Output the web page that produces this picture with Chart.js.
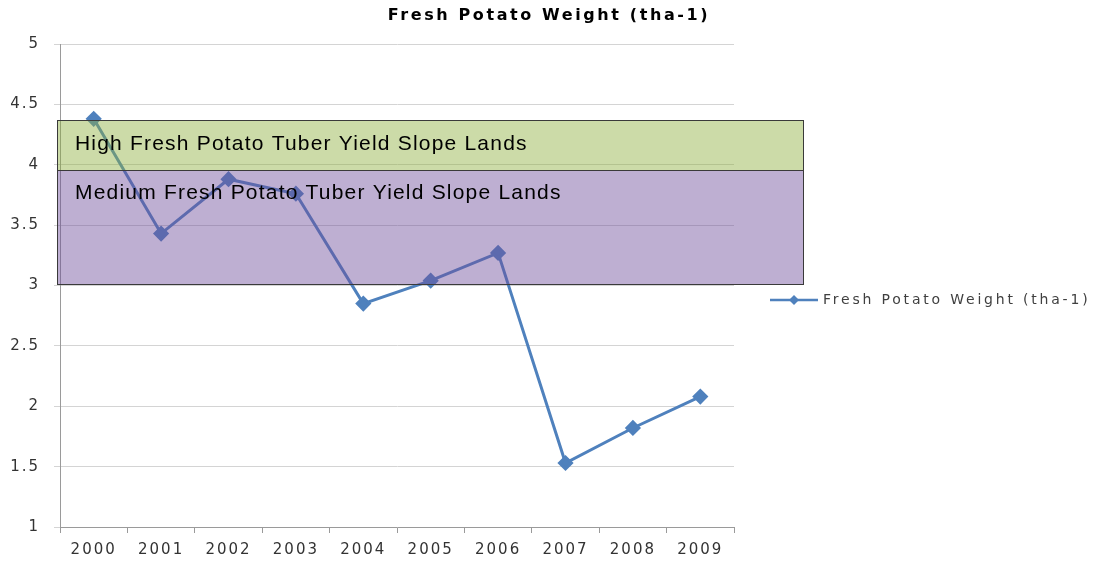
<!DOCTYPE html>
<html>
<head>
<meta charset="utf-8">
<script src="https://cdn.jsdelivr.net/npm/chart.js@4.4.1/dist/chart.umd.min.js"></script>
<style>
  html, body { margin: 0; padding: 0; background: #fff; }
  #wrap { width: 1098px; height: 562px; }
</style>
</head>
<body>
<div id="wrap"><canvas id="potato"></canvas></div>
<script>
// data
const years = ["2000", "2001", "2002", "2003", "2004", "2005", "2006", "2007", "2008", "2009"];
const weights = [4.38, 3.43, 3.88, 3.76, 2.85, 3.04, 3.27, 1.53, 1.82, 2.08];
const seriesName = "Fresh Potato Weight (tha-1)";
const bandLabels = ["High Fresh Potato Tuber Yield Slope Lands", "Medium Fresh Potato Tuber Yield Slope Lands"];
const bandTop = [4.37, 3.96];
const bandBottom = [3.96, 3.01];
const bandColors = ["rgba(142,176,62,0.45)", "rgba(111,78,156,0.45)"];

const lineBlue = "#4F81BD";
const uiFont = "'DejaVu Sans', sans-serif";

// stretched look of the original text
const spacing = {
	id: "spacing",
	beforeDraw(chart) {
		chart.ctx.letterSpacing = "2px";
	}
};

// shaded bands over the plot, drawn on top of the line
const bands = {
	id: "bands",
	afterDatasetsDraw(chart) {
		const { ctx, chartArea, scales: { y } } = chart;
		const x0 = chartArea.left - 3;
		const x1 = chartArea.right + 69;
		ctx.save();
		for (let i = 0; i < bandLabels.length; i++) {
			const yt = Math.round(y.getPixelForValue(bandTop[i])) + 0.5;
			const yb = Math.round(y.getPixelForValue(bandBottom[i])) + 0.5;
			ctx.fillStyle = bandColors[i];
			ctx.fillRect(x0, yt, x1 - x0, yb - yt);
			ctx.strokeStyle = "#3a3a3a";
			ctx.lineWidth = 1;
			ctx.strokeRect(x0 + 0.5, yt, x1 - x0, yb - yt);
		}
		ctx.font = "21px 'Liberation Sans', Arial, sans-serif";
		ctx.letterSpacing = "1.2px";
		ctx.fillStyle = "#000";
		ctx.textBaseline = "middle";
		for (let i = 0; i < bandLabels.length; i++) {
			const yt = y.getPixelForValue(bandTop[i]);
			ctx.fillText(bandLabels[i], x0 + 18, yt + 24);
		}
		ctx.restore();
	}
};

// title centred on the whole canvas and excel style legend
const sideLegend = {
	id: "sideLegend",
	afterDraw(chart) {
		const { ctx, chartArea, width } = chart;
		ctx.save();
		ctx.letterSpacing = "2.6px";
		ctx.font = "bold 16px " + uiFont;
		ctx.fillStyle = "#000";
		ctx.textAlign = "center";
		ctx.textBaseline = "middle";
		ctx.fillText(seriesName, width / 2, 16);

		const lx = chartArea.right + 36;
		const ly = 300;
		ctx.strokeStyle = lineBlue;
		ctx.lineWidth = 2.5;
		ctx.beginPath();
		ctx.moveTo(lx, ly);
		ctx.lineTo(lx + 48, ly);
		ctx.stroke();
		ctx.fillStyle = lineBlue;
		ctx.beginPath();
		ctx.moveTo(lx + 24, ly - 5);
		ctx.lineTo(lx + 29, ly);
		ctx.lineTo(lx + 24, ly + 5);
		ctx.lineTo(lx + 19, ly);
		ctx.closePath();
		ctx.fill();
		ctx.letterSpacing = "2.8px";
		ctx.font = "14px " + uiFont;
		ctx.fillStyle = "#404040";
		ctx.textAlign = "left";
		ctx.fillText(seriesName, lx + 53, ly);
		ctx.restore();
	}
};

var ctx = document.getElementById("potato").getContext("2d");
var config = {
	type: "line",
	data: {
		labels: years,
		datasets: [
			{
				label: seriesName,
				data: weights,
				borderColor: lineBlue,
				backgroundColor: lineBlue,
				borderWidth: 3,
				pointStyle: "rectRot",
				pointRadius: 6,
				pointHoverRadius: 6,
				tension: 0
			}
		]
	},
	options: {
		responsive: true,
		maintainAspectRatio: false,
		animation: false,
		layout: { padding: { left: 0, right: 364, top: 44, bottom: 0 } },
		plugins: {
			legend: { display: false },
			tooltip: { enabled: false },
			title: { display: false }
		},
		scales: {
			x: {
				offset: true,
				grid: { offset: true, drawOnChartArea: false, tickLength: 6, color: "#9a9a9a" },
				border: { color: "#9a9a9a" },
				ticks: { color: "#333", font: { family: uiFont, size: 15 }, padding: 8, maxRotation: 0 },
				afterFit(scale) { scale.height = 35; }
			},
			y: {
				min: 1,
				max: 5,
				ticks: {
					stepSize: 0.5,
					color: "#333",
					font: { family: uiFont, size: 15 },
					padding: 14,
					callback: (v) => String(v)
				},
				grid: { color: "#d4d4d4", tickLength: 6 },
				border: { color: "#9a9a9a" },
				afterFit(scale) { scale.width = 60; }
			}
		}
	},
	plugins: [spacing, bands, sideLegend]
};

var potatoChart = new Chart(ctx, config);
</script>
</body>
</html>
